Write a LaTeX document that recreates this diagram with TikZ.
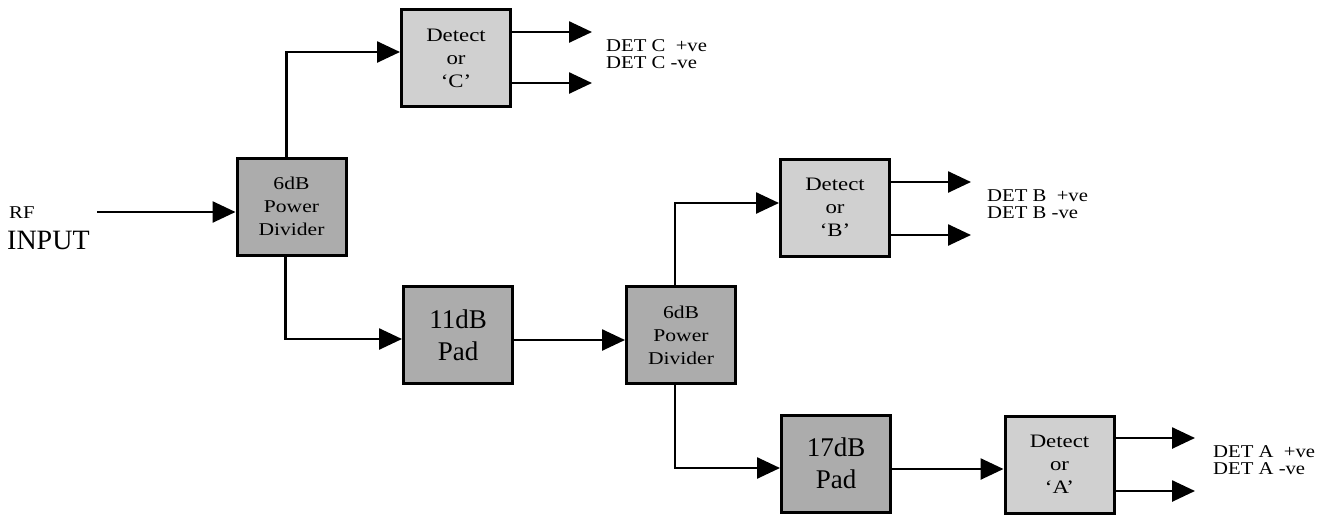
\documentclass[tikz,border=0pt]{standalone}
\usepackage{fontspec}
\setmainfont{Liberation Serif}
\newfontfamily\widefont[FakeStretch=1.15]{Liberation Serif}
\newfontfamily\boxfont[FakeStretch=1.2]{Liberation Serif}
\usetikzlibrary{arrows.meta}
\definecolor{detfill}{RGB}{208,208,208}
\definecolor{pdfill}{RGB}{172,172,172}
\begin{document}
\begin{tikzpicture}[x=1pt,y=-1pt,
  box/.style={draw=black,line width=3pt,minimum width=109pt,minimum height=97pt,inner sep=0pt,align=center},
  detbox/.style={box,fill=detfill,font=\boxfont\fontsize{19}{23}\selectfont},
  pdbox/.style={box,fill=pdfill,font=\boxfont\fontsize{18}{23}\selectfont},
  padbox/.style={box,fill=pdfill,font=\fontsize{27}{32}\selectfont},
  conn/.style={line width=2.6pt,-{Triangle[length=23pt,width=21pt]}},
  outlbl/.style={anchor=west,align=left,inner sep=0pt,font=\widefont\fontsize{18}{17}\selectfont}]
\useasboundingbox (0,0) rectangle (1336,515);
% boxes
\node[pdbox]  (PD1) at (291.5,206.5) {6dB\\Power\\Divider};
\node[detbox] (C)   at (456,58)      {Detect\\or\\‘C’};
\node[padbox] (P11) at (458,335)     {11dB\\Pad};
\node[pdbox]  (PD2) at (681,335)     {6dB\\Power\\Divider};
\node[detbox] (B)   at (835,207.5)   {Detect\\or\\‘B’};
\node[padbox] (P17) at (836,463.5)   {17dB\\Pad};
\node[detbox] (A)   at (1059.5,464.5){Detect\\or\\‘A’};
% input
\node[anchor=west,inner sep=0pt,font=\widefont\fontsize{18}{18}\selectfont] (rf) at (9,213) {RF};
\node[anchor=west,inner sep=0pt,font=\fontsize{28}{28}\selectfont] (inp) at (7,240) {INPUT};
\coordinate (in) at (97,212);
\draw[conn] (in) -- (in -| PD1.west);
% branches
\draw[conn] ([xshift=-5pt]PD1.north) |- ([yshift=6pt]C.west);
\draw[conn] ([xshift=-6pt]PD1.south) |- ([yshift=-4pt]P11.west);
\draw[conn] ([yshift=-5pt]P11.east) -- ([yshift=-5pt]PD2.west);
\draw[conn] ([xshift=-6pt]PD2.north) |- ([yshift=4.5pt]B.west);
\draw[conn] ([xshift=-6pt]PD2.south) |- ([yshift=-4.5pt]P17.west);
\draw[conn] ([yshift=-5.5pt]P17.east) -- ([yshift=-4.5pt]A.west);
% outputs
\coordinate (c1) at (592,32);  \coordinate (c2) at (592,83);
\coordinate (b1) at (971,182); \coordinate (b2) at (971,235);
\coordinate (a1) at (1195,438);\coordinate (a2) at (1195,491);
\draw[conn] (C.east |- c1) -- (c1);
\draw[conn] (C.east |- c2) -- (c2);
\draw[conn] (B.east |- b1) -- (b1);
\draw[conn] (B.east |- b2) -- (b2);
\draw[conn] (A.east |- a1) -- (a1);
\draw[conn] (A.east |- a2) -- (a2);
% labels
\node[outlbl] (lc) at (606,54) {DET C\ \ +ve\\DET C -ve};
\node[outlbl] (lb) at (987,204) {DET B\ \ +ve\\DET B -ve};
\node[outlbl] (la) at (1213,460) {DET A\ \ +ve\\DET A -ve};
\end{tikzpicture}
\end{document}
